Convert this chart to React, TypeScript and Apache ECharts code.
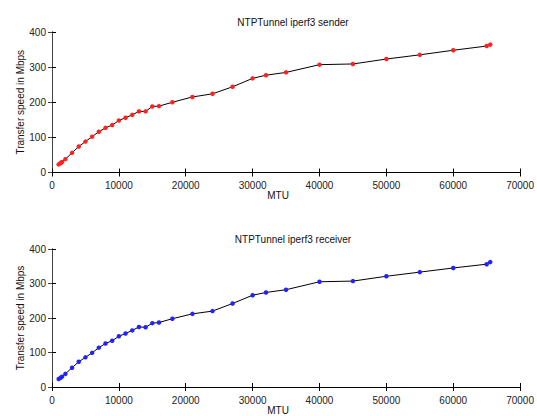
import React, { useEffect, useRef } from "react";
import * as echarts from "echarts";

const mtu = [1000, 1300, 1500, 2000, 3000, 4000, 5000, 6000, 7000, 8000, 9000, 10000, 11000, 12000, 13000, 14000, 15000, 16000, 18000, 21000, 24000, 27000, 30000, 32000, 35000, 40000, 45000, 50000, 55000, 60000, 65000, 65535];
const senderSpeed = [23, 27, 30, 38, 56, 74, 88, 102, 116, 127, 135, 148, 156, 164, 174, 174, 188, 189, 200, 215, 224, 244, 268, 277, 285, 307, 309, 323, 335, 348, 360, 364];
const receiverSpeed = [23, 27, 30, 38, 56, 73, 86, 99, 114, 126, 134, 147, 155, 164, 174, 173, 185, 187, 198, 212, 220, 242, 266, 274, 282, 305, 307, 321, 333, 345, 356, 362];
const titles = ["NTPTunnel iperf3 sender", "NTPTunnel iperf3 receiver"];
const xTicks = [0, 10000, 20000, 30000, 40000, 50000, 60000, 70000];
const yTicks = [0, 100, 200, 300, 400];

export default function App() {
  const ref = useRef<HTMLDivElement>(null);
  useEffect(() => {
    const chart = echarts.init(ref.current!, null, { renderer: "svg" });
    const font = "Liberation Sans, Arial, sans-serif";
    const grids = [
      { left: 52, right: 13, top: 32, height: 140.5 },
      { left: 52, right: 13, top: 249, height: 141 },
    ];
    const xMin = xTicks[0], xMax = xTicks[xTicks.length - 1];
    const yMin = yTicks[0], yMax = yTicks[yTicks.length - 1];
    const xAxes: any[] = [];
    const yAxes: any[] = [];
    grids.forEach((_, i) => {
      xAxes.push({
        type: "value", gridIndex: i, min: xMin, max: xMax, interval: 10000, position: "bottom",
        name: "MTU", nameLocation: "middle", nameGap: 18, nameMoveOverlap: false,
        nameTextStyle: { fontSize: 10, color: "#111", fontFamily: font, padding: [0, 16, 0, 0] },
        axisLine: { show: true, lineStyle: { color: "#000", width: 1 } },
        axisTick: { show: true, inside: true, length: 4, lineStyle: { color: "#000" } },
        axisLabel: { fontSize: 10, color: "#222", fontFamily: font, margin: 8, formatter: (v: number) => String(v) },
        splitLine: { show: false },
      });
      xAxes.push({
        type: "value", gridIndex: i, min: xMin, max: xMax, interval: 10000, position: "top",
        axisLine: { show: true, lineStyle: { color: "#000", width: 1 } },
        axisTick: { show: true, inside: true, length: 4, lineStyle: { color: "#000" } },
        axisLabel: { show: false },
        splitLine: { show: false },
      });
      yAxes.push({
        type: "value", gridIndex: i, min: yMin, max: yMax, interval: 100, position: "left",
        name: "Transfer speed in Mbps", nameLocation: "middle", nameGap: 27, nameMoveOverlap: false,
        nameTextStyle: { fontSize: 10, color: "#111", fontFamily: font },
        axisLine: { show: true, lineStyle: { color: "#000", width: 1 } },
        axisTick: { show: true, inside: true, length: 4, lineStyle: { color: "#000" } },
        axisLabel: { fontSize: 10, color: "#222", fontFamily: font, margin: 6, formatter: (v: number) => String(v) },
        splitLine: { show: false },
      });
      yAxes.push({
        type: "value", gridIndex: i, min: yMin, max: yMax, interval: 100, position: "right",
        axisLine: { show: true, lineStyle: { color: "#444", width: 1 } },
        axisTick: { show: true, inside: true, length: 4, lineStyle: { color: "#444" } },
        axisLabel: { show: false },
        splitLine: { show: false },
      });
    });
    const mk = (vals: number[], color: string, i: number) => ({
      type: "line",
      xAxisIndex: i * 2,
      yAxisIndex: i * 2,
      data: mtu.map((m, k) => [m, vals[k]]),
      symbol: "circle",
      symbolSize: 4.5,
      showAllSymbol: true,
      lineStyle: { color: "#000", width: 1 },
      itemStyle: { color },
      z: 3,
    });
    chart.setOption({
      animation: false,
      backgroundColor: "#fff",
      title: [
        { text: titles[0], left: 288, textAlign: "center", top: 12, textStyle: { fontSize: 10, fontWeight: "normal", color: "#111", fontFamily: font } },
        { text: titles[1], left: 288, textAlign: "center", top: 229, textStyle: { fontSize: 10, fontWeight: "normal", color: "#111", fontFamily: font } },
      ],
      grid: grids,
      xAxis: xAxes,
      yAxis: yAxes,
      series: [mk(senderSpeed, "#ff2222", 0), mk(receiverSpeed, "#2222ff", 1)],
    });
    return () => chart.dispose();
  }, []);
  return <div ref={ref} style={{ position: "fixed", left: 0, top: 0, width: 537, height: 416 }} />;
}
